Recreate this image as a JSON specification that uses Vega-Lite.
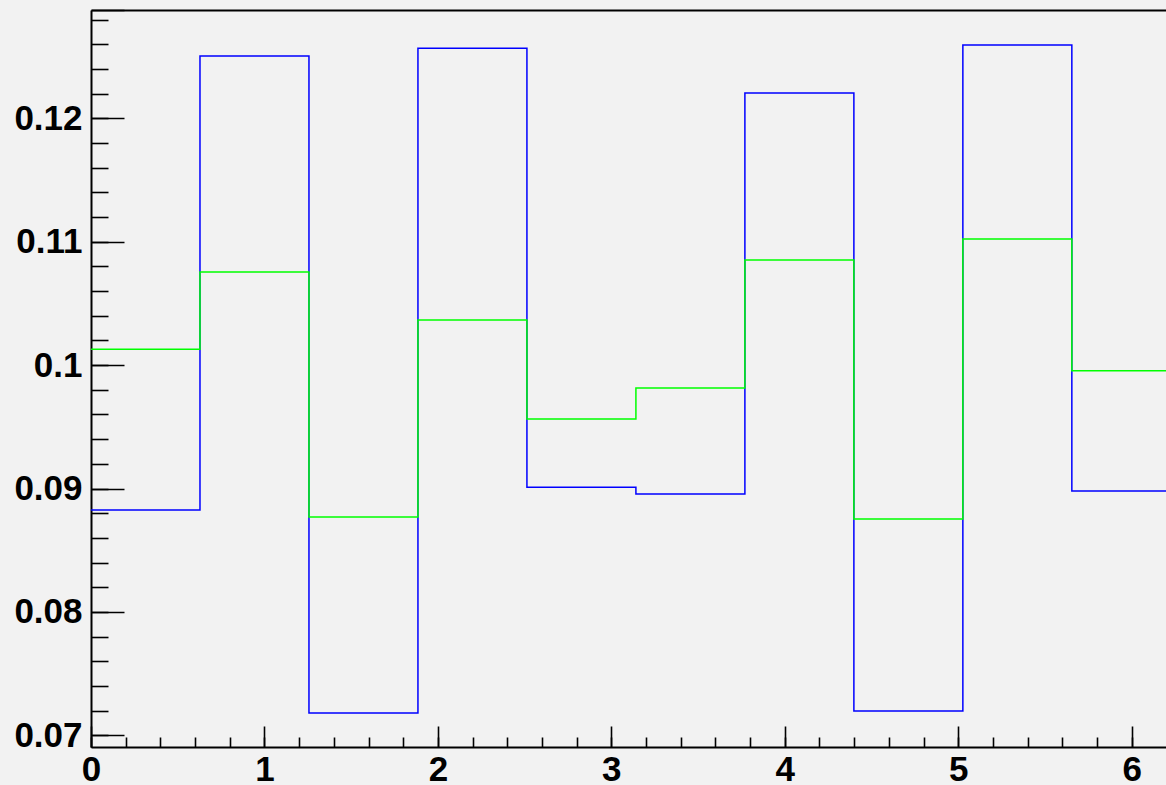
{
  "$schema": "https://vega.github.io/schema/vega-lite/v6.json",
  "width": 1075,
  "height": 737,
  "autosize": {"type": "none"},
  "padding": {"left": 91, "top": 10, "right": 0, "bottom": 38},
  "background": "#f2f2f2",
  "config": {
    "view": {"stroke": null},
    "axis": {
      "labelFont": "Liberation Sans",
      "labelFontWeight": "bold",
      "labelFontSize": 35,
      "labelColor": "#000000",
      "domainColor": "#000000",
      "tickColor": "#000000",
      "title": null,
      "grid": false
    }
  },
  "data": {
    "values": [
      {"series": "h1", "lo": 0.0, "hi": 0.62832, "value": 0.08826},
      {"series": "h1", "lo": 0.62832, "hi": 1.25664, "value": 0.12505},
      {"series": "h1", "lo": 1.25664, "hi": 1.88496, "value": 0.07181},
      {"series": "h1", "lo": 1.88496, "hi": 2.51327, "value": 0.12568},
      {"series": "h1", "lo": 2.51327, "hi": 3.14159, "value": 0.0901},
      {"series": "h1", "lo": 3.14159, "hi": 3.76991, "value": 0.08955},
      {"series": "h1", "lo": 3.76991, "hi": 4.39823, "value": 0.12205},
      {"series": "h1", "lo": 4.39823, "hi": 5.02655, "value": 0.07197},
      {"series": "h1", "lo": 5.02655, "hi": 5.65487, "value": 0.12594},
      {"series": "h1", "lo": 5.65487, "hi": 6.28319, "value": 0.0898},
      {"series": "h2", "lo": 0.0, "hi": 0.62832, "value": 0.10128},
      {"series": "h2", "lo": 0.62832, "hi": 1.25664, "value": 0.10755},
      {"series": "h2", "lo": 1.25664, "hi": 1.88496, "value": 0.08769},
      {"series": "h2", "lo": 1.88496, "hi": 2.51327, "value": 0.10366},
      {"series": "h2", "lo": 2.51327, "hi": 3.14159, "value": 0.09563},
      {"series": "h2", "lo": 3.14159, "hi": 3.76991, "value": 0.09815},
      {"series": "h2", "lo": 3.76991, "hi": 4.39823, "value": 0.10852},
      {"series": "h2", "lo": 4.39823, "hi": 5.02655, "value": 0.08753},
      {"series": "h2", "lo": 5.02655, "hi": 5.65487, "value": 0.11022},
      {"series": "h2", "lo": 5.65487, "hi": 6.28319, "value": 0.09955}
    ]
  },
  "transform": [
    {"fold": ["lo", "hi"], "as": ["edge", "x"]}
  ],
  "layer": [
    {
      "transform": [{"filter": "datum.series === 'h1'"}],
      "mark": {"type": "line", "color": "#0000ff", "strokeWidth": 1.5, "clip": true, "interpolate": "linear"},
      "encoding": {
        "x": {
          "field": "x", "type": "quantitative",
          "scale": {"domain": [0, 6.1977], "nice": false, "zero": false},
          "axis": {
            "orient": "bottom",
            "values": [0, 1, 2, 3, 4, 5, 6],
            "format": "d",
            "tickSize": -21,
            "tickWidth": 1.6,
            "domainWidth": 2,
            "labelPadding": 26,
            "labelFlush": false,
            "labelOverlap": false
          }
        },
        "y": {
          "field": "value", "type": "quantitative",
          "scale": {"domain": [0.06905, 0.12878], "nice": false, "zero": false},
          "axis": {
            "orient": "left",
            "values": [0.07, 0.08, 0.09, 0.1, 0.11, 0.12, 0.12878],
            "format": "~g",
            "labelExpr": "datum.value > 0.125 ? '' : datum.label",
            "tickSize": -33,
            "tickWidth": 1.6,
            "domainWidth": 2,
            "labelPadding": 42,
            "labelOverlap": false,
            "grid": true,
            "gridWidth": 2,
            "gridColor": {"condition": {"test": "datum.value > 0.125", "value": "#000000"}, "value": "transparent"}
          }
        },
        "order": [{"field": "x", "type": "quantitative"}, {"field": "lo", "type": "quantitative"}]
      }
    },
    {
      "transform": [{"filter": "datum.series === 'h2'"}],
      "mark": {"type": "line", "color": "#00ff00", "strokeWidth": 1.5, "clip": true, "interpolate": "linear"},
      "encoding": {
        "x": {
          "field": "x", "type": "quantitative",
          "axis": {
            "orient": "bottom",
            "values": [0, 0.2, 0.4, 0.6, 0.8, 1, 1.2, 1.4, 1.6, 1.8, 2, 2.2, 2.4, 2.6, 2.8, 3, 3.2, 3.4, 3.6, 3.8, 4, 4.2, 4.4, 4.6, 4.8, 5, 5.2, 5.4, 5.6, 5.8, 6],
            "tickSize": -10,
            "tickWidth": 1.6,
            "labels": false,
            "domain": false
          }
        },
        "y": {
          "field": "value", "type": "quantitative",
          "axis": {
            "orient": "left",
            "values": [0.07, 0.072, 0.074, 0.076, 0.078, 0.08, 0.082, 0.084, 0.086, 0.088, 0.09, 0.092, 0.094, 0.096, 0.098, 0.1, 0.102, 0.104, 0.106, 0.108, 0.11, 0.112, 0.114, 0.116, 0.118, 0.12, 0.122, 0.124, 0.126, 0.128],
            "tickSize": -17,
            "tickWidth": 1.6,
            "labels": false,
            "domain": false
          }
        },
        "order": [{"field": "x", "type": "quantitative"}, {"field": "lo", "type": "quantitative"}]
      }
    }
  ],
  "resolve": {"axis": {"x": "independent", "y": "independent"}}
}
